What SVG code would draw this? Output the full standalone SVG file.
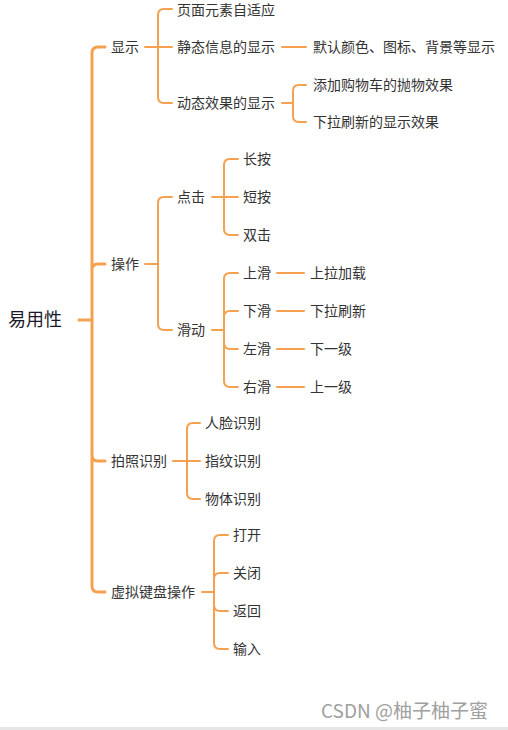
<svg xmlns="http://www.w3.org/2000/svg" width="508" height="730" viewBox="0 0 508 730">
<style>
.c{fill:none;stroke:#F5A14F;stroke-width:2;stroke-linecap:round;stroke-linejoin:round}
.m{stroke-width:3}
text{font-family:"Noto Sans CJK SC","Microsoft YaHei",sans-serif;font-size:14px;fill:#333}
.root{font-size:18px;fill:#1a1a2a}
.wm{font-size:19px;fill:#a0a0a0}
</style>
<rect width="508" height="730" fill="#fff"/>
<g id="connectors">
<path class="c m" d="M79 320H92 M92 320V53Q92 47 98 47H105 M92 320V270Q92 264 98 264H105 M92 320V455Q92 461 98 461H105 M92 320V586Q92 592 98 592H105"/>
<path class="c" d="M145 47H172 M158 47V15Q158 9 164 9H172 M158 47V97Q158 103 164 103H172"/>
<path class="c" d="M282 47H306"/>
<path class="c" d="M282 103H293 M293 103V91Q293 85 299 85H306 M293 103V116Q293 122 299 122H306"/>
<path class="c" d="M145 264H158 M158 264V203Q158 197 164 197H172 M158 264V324Q158 330 164 330H172"/>
<path class="c" d="M212 197H238 M224 197V165Q224 159 230 159H238 M224 197V229Q224 235 230 235H238"/>
<path class="c" d="M212 330H224 M224 330V279Q224 273 230 273H238 M224 330V317Q224 311 230 311H238 M224 330V343Q224 349 230 349H238 M224 330V381Q224 387 230 387H238"/>
<path class="c" d="M277 273H304 M277 311H304 M277 349H304 M277 387H304"/>
<path class="c" d="M173 461H200 M187 461V429Q187 423 193 423H200 M187 461V493Q187 499 193 499H200"/>
<path class="c" d="M202 592H214 M214 592V541Q214 535 220 535H228 M214 592V579Q214 573 220 573H228 M214 592V605Q214 611 220 611H228 M214 592V643Q214 649 220 649H228"/>
</g>
<g id="n-root"><text class="root" x="8" y="326">易用性</text></g>
<g id="n-display"><text x="111" y="52">显示</text></g>
<g id="n-adapt"><text x="177" y="15">页面元素自适应</text></g>
<g id="n-static"><text x="177" y="52">静态信息的显示</text></g>
<g id="n-default"><text x="313" y="52">默认颜色、图标、背景等显示</text></g>
<g id="n-dynamic"><text x="177" y="108">动态效果的显示</text></g>
<g id="n-cart"><text x="313" y="90">添加购物车的抛物效果</text></g>
<g id="n-pullrefresh"><text x="313" y="127">下拉刷新的显示效果</text></g>
<g id="n-operate"><text x="111" y="269">操作</text></g>
<g id="n-click"><text x="177" y="202">点击</text></g>
<g id="n-long"><text x="243" y="164">长按</text></g>
<g id="n-short"><text x="243" y="202">短按</text></g>
<g id="n-double"><text x="243" y="240">双击</text></g>
<g id="n-slide"><text x="177" y="335">滑动</text></g>
<g id="n-up"><text x="243" y="278">上滑</text></g>
<g id="n-down"><text x="243" y="316">下滑</text></g>
<g id="n-left"><text x="243" y="354">左滑</text></g>
<g id="n-right"><text x="243" y="392">右滑</text></g>
<g id="n-load"><text x="310" y="278">上拉加载</text></g>
<g id="n-refresh"><text x="310" y="316">下拉刷新</text></g>
<g id="n-next"><text x="310" y="354">下一级</text></g>
<g id="n-prev"><text x="310" y="392">上一级</text></g>
<g id="n-photo"><text x="111" y="466">拍照识别</text></g>
<g id="n-face"><text x="205" y="428">人脸识别</text></g>
<g id="n-finger"><text x="205" y="466">指纹识别</text></g>
<g id="n-object"><text x="205" y="504">物体识别</text></g>
<g id="n-keyboard"><text x="111" y="597">虚拟键盘操作</text></g>
<g id="n-open"><text x="233" y="540">打开</text></g>
<g id="n-close"><text x="233" y="578">关闭</text></g>
<g id="n-back"><text x="233" y="616">返回</text></g>
<g id="n-input"><text x="233" y="654">输入</text></g>
<text class="wm" x="321" y="718">CSDN @柚子柚子蜜</text>
<rect x="0" y="727" width="508" height="3" fill="#e6e6e6"/>
</svg>
